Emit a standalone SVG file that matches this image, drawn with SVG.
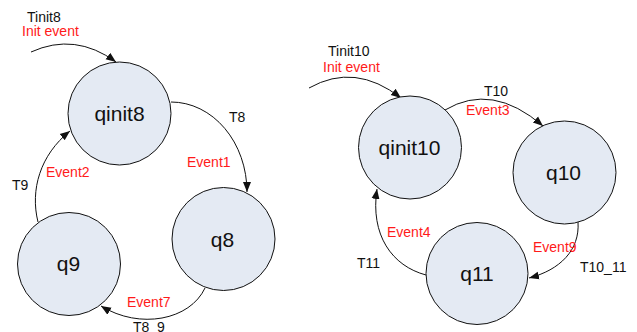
<svg xmlns="http://www.w3.org/2000/svg" width="637" height="332" viewBox="0 0 637 332">
  <style>
    .state circle { fill: #e4eaf3; stroke: #111; stroke-width: 1; }
    .state text { font-family: "Liberation Sans", Arial, sans-serif; font-size: 21px; fill: #111; text-anchor: middle; }
    .edge { fill: none; stroke: #111; stroke-width: 1; marker-end: url(#arrow); }
    .lbl { font-family: "Liberation Sans", Arial, sans-serif; font-size: 14px; }
    .name { fill: #111; }
    .evt { fill: #ff1a1a; }
  </style>
  <defs>
    <marker id="arrow" markerUnits="userSpaceOnUse" markerWidth="10" markerHeight="10" viewBox="0 0 10 10" refX="10" refY="5" orient="auto">
      <path d="M0,1 L10,5 L0,9 z" fill="#111"/>
    </marker>
  </defs>

  <!-- transitions -->
  <g id="connectors">
    <path class="edge" d="M31,52 Q75,32 116,62"/>
    <path class="edge" d="M171,102 A76,90 0 0 1 247,192"/>
    <path class="edge" d="M205,288 C190,320 140,330 101,306"/>
    <path class="edge" d="M38,222 C30,190 40,155 70,131"/>
    <path class="edge" d="M309,88 Q355,62 401,98"/>
    <path class="edge" d="M445,110 Q492,82 543,126"/>
    <path class="edge" d="M578,222 C580,250 560,270 529,278"/>
    <path class="edge" d="M426,275 C392,266 370,235 377,189"/>
  </g>

  <!-- states of machine 8 -->
  <g id="qinit8" class="state">
    <circle cx="119.5" cy="113.5" r="51.5"/>
    <text x="119.5" y="121">qinit8</text>
  </g>
  <g id="q8" class="state">
    <circle cx="223.5" cy="239" r="51.5"/>
    <text x="222.5" y="246.5">q8</text>
  </g>
  <g id="q9" class="state">
    <circle cx="69" cy="264" r="51.5"/>
    <text x="68.5" y="271">q9</text>
  </g>

  <!-- states of machine 10 -->
  <g id="qinit10" class="state">
    <circle cx="410" cy="147.5" r="51.5"/>
    <text x="409.5" y="154.5">qinit10</text>
  </g>
  <g id="q10" class="state">
    <circle cx="564.5" cy="172.5" r="51.5"/>
    <text x="563.5" y="180">q10</text>
  </g>
  <g id="q11" class="state">
    <circle cx="477" cy="273.5" r="51"/>
    <text x="477" y="281">q11</text>
  </g>

  <!-- transition labels -->
  <g id="labels" class="lbl">
    <text class="name" x="27" y="22">Tinit8</text>
    <text class="evt" x="22" y="36">Init event</text>
    <text class="name" x="229" y="122">T8</text>
    <text class="evt" x="187" y="167">Event1</text>
    <text class="evt" x="46" y="177">Event2</text>
    <text class="name" x="12" y="190">T9</text>
    <text class="evt" x="127" y="307">Event7</text>
    <text class="name" x="133" y="332">T8_9</text>

    <text class="name" x="328" y="56">Tinit10</text>
    <text class="evt" x="323" y="72">Init event</text>
    <text class="name" x="484" y="96">T10</text>
    <text class="evt" x="466" y="115">Event3</text>
    <text class="evt" x="533" y="252">Event9</text>
    <text class="name" x="580" y="272">T10_11</text>
    <text class="evt" x="387" y="237">Event4</text>
    <text class="name" x="357" y="268">T11</text>
  </g>
</svg>
